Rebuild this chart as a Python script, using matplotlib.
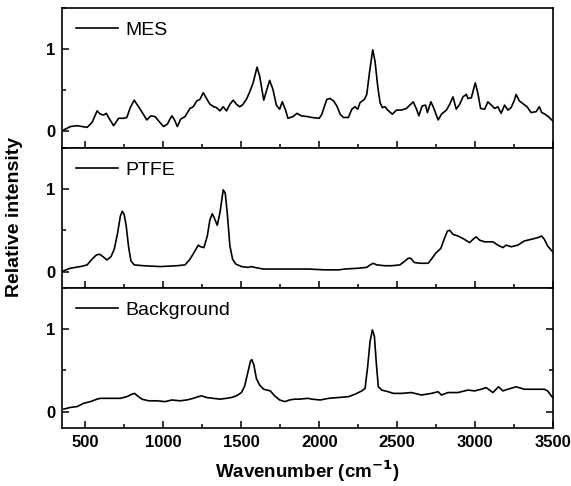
import numpy as np
import matplotlib
matplotlib.use('Agg')
import matplotlib.pyplot as plt
from matplotlib.ticker import MultipleLocator

plt.rcParams['font.family'] = ['Liberation Sans', 'DejaVu Sans']

# Spectra (wavenumber in cm-1, relative intensity)
mes_wn = [362, 404, 447, 511, 543, 575, 596, 617, 634, 655, 681, 713, 745, 766, 788, 813, 841, 868,
          894, 920, 947, 969, 1001, 1026, 1054, 1069, 1090, 1111, 1139, 1171, 1192, 1214, 1235, 1256,
          1277, 1299, 1324, 1341, 1363, 1384, 1405, 1427, 1448, 1469, 1490, 1507, 1533, 1554, 1576,
          1601, 1618, 1644, 1661, 1682, 1703, 1725, 1746, 1763, 1784, 1799, 1831, 1857, 1884, 1927,
          1953, 2000, 2017, 2034, 2049, 2070, 2092, 2113, 2134, 2155, 2187, 2209, 2230, 2247, 2262,
          2290, 2305, 2322, 2343, 2358, 2375, 2390, 2405, 2422, 2439, 2469, 2496, 2528, 2560, 2581,
          2603, 2624, 2639, 2660, 2682, 2694, 2716, 2731, 2763, 2784, 2816, 2837, 2858, 2879, 2901,
          2922, 2944, 2954, 2976, 3001, 3018, 3035, 3061, 3082, 3103, 3125, 3146, 3167, 3189, 3210,
          3231, 3252, 3263, 3284, 3305, 3333, 3359, 3391, 3412, 3427, 3448, 3470, 3497]
mes_int = [0.02, 0.06, 0.07, 0.05, 0.11, 0.25, 0.21, 0.20, 0.22, 0.15, 0.07, 0.16, 0.16, 0.17, 0.29,
           0.38, 0.30, 0.22, 0.14, 0.19, 0.18, 0.13, 0.06, 0.09, 0.19, 0.15, 0.06, 0.15, 0.18, 0.28,
           0.30, 0.37, 0.39, 0.47, 0.40, 0.33, 0.30, 0.29, 0.25, 0.30, 0.25, 0.33, 0.38, 0.33, 0.30,
           0.32, 0.39, 0.48, 0.59, 0.78, 0.67, 0.38, 0.49, 0.62, 0.51, 0.32, 0.27, 0.36, 0.26, 0.16,
           0.18, 0.22, 0.19, 0.18, 0.17, 0.16, 0.21, 0.31, 0.39, 0.40, 0.37, 0.31, 0.21, 0.17, 0.17,
           0.27, 0.30, 0.27, 0.35, 0.39, 0.45, 0.71, 0.99, 0.85, 0.55, 0.35, 0.29, 0.30, 0.26, 0.21,
           0.26, 0.26, 0.28, 0.32, 0.36, 0.27, 0.19, 0.31, 0.32, 0.23, 0.36, 0.30, 0.14, 0.21, 0.26,
           0.33, 0.42, 0.27, 0.33, 0.42, 0.45, 0.40, 0.41, 0.59, 0.46, 0.28, 0.27, 0.36, 0.32, 0.28,
           0.30, 0.22, 0.32, 0.26, 0.29, 0.38, 0.45, 0.37, 0.34, 0.30, 0.23, 0.24, 0.30, 0.23, 0.21,
           0.18, 0.13]

ptfe_wn = [362, 404, 468, 511, 543, 570, 591, 613, 638, 664, 685, 707, 724, 736, 749, 762, 777, 792,
           813, 873, 979, 1086, 1139, 1171, 1203, 1224, 1239, 1260, 1282, 1299, 1314, 1329, 1346,
           1363, 1384, 1397, 1410, 1427, 1444, 1465, 1501, 1544, 1565, 1586, 1640, 1725, 1831, 1927,
           2038, 2124, 2166, 2251, 2305, 2326, 2347, 2369, 2422, 2464, 2518, 2545, 2571, 2588, 2609,
           2645, 2699, 2720, 2746, 2780, 2801, 2822, 2837, 2858, 2890, 2922, 2965, 2986, 3007, 3029,
           3061, 3114, 3146, 3178, 3199, 3231, 3274, 3316, 3359, 3401, 3427, 3444, 3465, 3497]
ptfe_int = [0.01, 0.04, 0.06, 0.08, 0.15, 0.20, 0.21, 0.18, 0.14, 0.18, 0.27, 0.47, 0.67, 0.73,
            0.69, 0.55, 0.30, 0.13, 0.08, 0.07, 0.06, 0.07, 0.08, 0.15, 0.25, 0.32, 0.30, 0.29,
            0.43, 0.63, 0.70, 0.64, 0.56, 0.71, 0.99, 0.95, 0.71, 0.31, 0.15, 0.09, 0.06, 0.05,
            0.06, 0.05, 0.03, 0.03, 0.03, 0.03, 0.02, 0.02, 0.03, 0.04, 0.05, 0.08, 0.10, 0.08,
            0.07, 0.07, 0.08, 0.12, 0.16, 0.16, 0.11, 0.10, 0.10, 0.15, 0.22, 0.28, 0.39, 0.49,
            0.50, 0.45, 0.43, 0.40, 0.35, 0.39, 0.42, 0.38, 0.36, 0.36, 0.32, 0.29, 0.32, 0.30,
            0.32, 0.37, 0.39, 0.41, 0.43, 0.39, 0.31, 0.24]

bg_wn = [362, 404, 447, 489, 532, 575, 596, 638, 681, 724, 766, 798, 815, 834, 862, 905, 958, 1011,
         1054, 1107, 1150, 1192, 1224, 1246, 1277, 1320, 1363, 1405, 1437, 1469, 1501, 1522, 1544,
         1559, 1567, 1580, 1597, 1618, 1644, 1665, 1686, 1714, 1746, 1778, 1810, 1842, 1874, 1927,
         1953, 2006, 2060, 2124, 2187, 2230, 2273, 2294, 2311, 2326, 2341, 2354, 2366, 2379, 2401,
         2443, 2475, 2528, 2592, 2656, 2720, 2763, 2784, 2826, 2890, 2954, 2997, 3039, 3071, 3114,
         3150, 3178, 3210, 3263, 3316, 3380, 3444, 3465, 3497]
bg_int = [0.03, 0.05, 0.06, 0.10, 0.12, 0.15, 0.16, 0.16, 0.16, 0.16, 0.18, 0.21, 0.22, 0.19, 0.15,
          0.13, 0.13, 0.12, 0.14, 0.13, 0.14, 0.16, 0.18, 0.19, 0.17, 0.16, 0.15, 0.16, 0.17, 0.19,
          0.23, 0.31, 0.49, 0.61, 0.63, 0.57, 0.40, 0.32, 0.27, 0.26, 0.25, 0.19, 0.14, 0.12, 0.14,
          0.15, 0.15, 0.16, 0.15, 0.14, 0.16, 0.17, 0.18, 0.21, 0.25, 0.28, 0.55, 0.85, 0.99, 0.91,
          0.59, 0.30, 0.26, 0.24, 0.22, 0.22, 0.23, 0.20, 0.22, 0.24, 0.20, 0.23, 0.23, 0.26, 0.25,
          0.27, 0.29, 0.23, 0.30, 0.25, 0.27, 0.30, 0.27, 0.27, 0.27, 0.25, 0.17]

labels = ['MES', 'PTFE', 'Background']
series = [(mes_wn, mes_int), (ptfe_wn, ptfe_int), (bg_wn, bg_int)]

fig = plt.figure(figsize=(5.71, 4.86), dpi=100)
left, width, height = 0.1086, 0.860, 0.2885
bottoms = [0.6955, 0.4074, 0.1193]

for i, (lab, (wn, inten)) in enumerate(zip(labels, series)):
    ax = fig.add_axes([left, bottoms[i], width, height])
    ax.plot(wn, inten, color='black', lw=1.2, label=lab)
    ax.set_xlim(350, 3500)
    ax.set_ylim(-0.2, 1.5)
    ax.xaxis.set_major_locator(MultipleLocator(500))
    ax.xaxis.set_minor_locator(MultipleLocator(250))
    ax.yaxis.set_major_locator(MultipleLocator(1))
    ax.yaxis.set_minor_locator(MultipleLocator(0.5))
    last = (i == 2)
    ax.tick_params(which='both', direction='in', top=False, right=last,
                   labelbottom=last, width=1.1)
    ax.tick_params(which='major', length=5, labelsize=12, pad=5)
    ax.tick_params(which='minor', length=3)
    for lbl in ax.get_xticklabels() + ax.get_yticklabels():
        lbl.set_fontweight('bold')
    for sp in ax.spines.values():
        sp.set_linewidth(1.2)
    ax.legend(loc='upper left', frameon=False, fontsize=14, handlelength=2.2,
              handletextpad=0.35, borderaxespad=0.3)
    if last:
        ax.set_xlabel('Wavenumber (cm$^{\\mathbf{-1}}$)', fontsize=13.5, fontweight='bold',
                      labelpad=6)

fig.text(0.026, 0.553, 'Relative intensity', rotation=90, fontsize=14,
         fontweight='bold', ha='center', va='center')

fig.savefig('out.png', dpi=100)
